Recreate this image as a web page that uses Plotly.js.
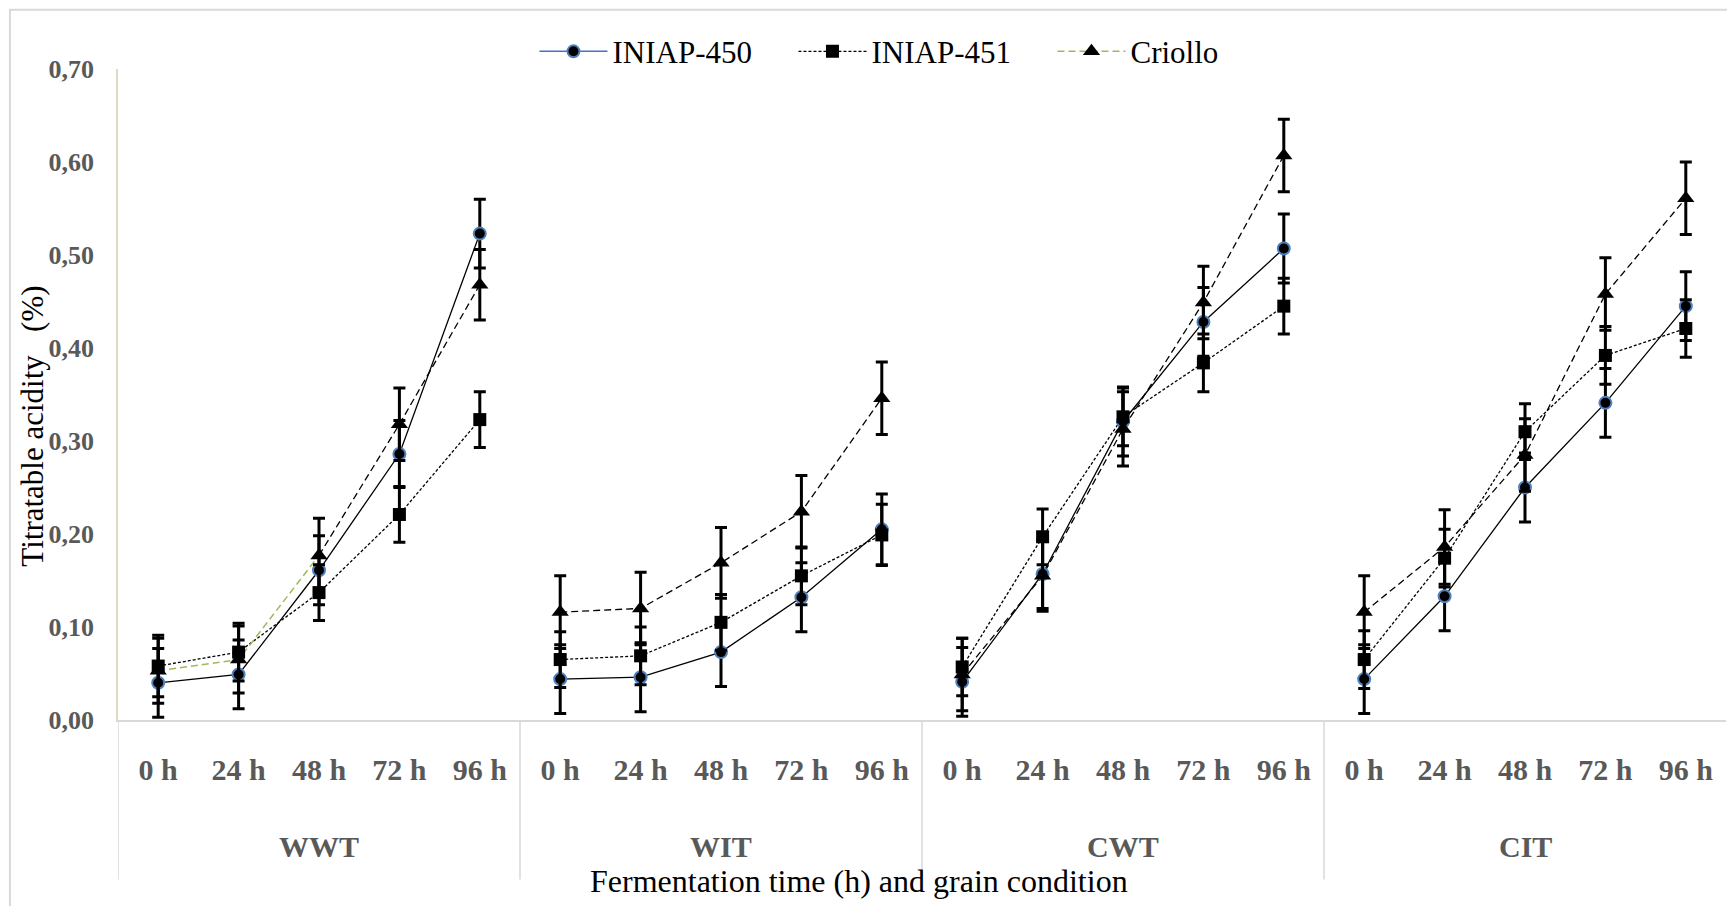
<!DOCTYPE html>
<html>
<head>
<meta charset="utf-8">
<script src="https://cdn.plot.ly/plotly-3.0.1.min.js"></script>
<style>html,body{margin:0;padding:0;background:#fff;}#chart{width:1727px;height:906px;}</style>
</head>
<body>
<div id="chart"></div>
<script>
// ---- data ----
const groups = ['WWT', 'WIT', 'CWT', 'CIT'];
const times = ['0 h', '24 h', '48 h', '72 h', '96 h'];

// values per group (WWT, WIT, CWT, CIT), 5 times each
const iniap450 = [0.040, 0.049, 0.161, 0.286, 0.523,
                  0.044, 0.046, 0.073, 0.132, 0.205,
                  0.041, 0.157, 0.321, 0.428, 0.507,
                  0.044, 0.133, 0.250, 0.341, 0.445];
const iniap451 = [0.058, 0.073, 0.137, 0.221, 0.323,
                  0.065, 0.069, 0.105, 0.155, 0.199,
                  0.057, 0.197, 0.326, 0.384, 0.445,
                  0.065, 0.174, 0.310, 0.392, 0.421];
const criollo  = [0.053, 0.065, 0.177, 0.318, 0.468,
                  0.116, 0.120, 0.169, 0.224, 0.346,
                  0.049, 0.155, 0.313, 0.449, 0.607,
                  0.116, 0.186, 0.285, 0.458, 0.561];

const err450 = [0.037, 0.037, 0.037, 0.036, 0.037,
                0.037, 0.037, 0.037, 0.037, 0.038,
                0.037, 0.037, 0.037, 0.037, 0.037,
                0.037, 0.037, 0.037, 0.037, 0.037];
const err451 = [0.033, 0.031, 0.030, 0.030, 0.030,
                0.030, 0.031, 0.030, 0.031, 0.033,
                0.031, 0.030, 0.031, 0.031, 0.030,
                0.031, 0.031, 0.030, 0.031, 0.031];
const errCriollo = [0.035, 0.036, 0.040, 0.039, 0.038,
                    0.039, 0.039, 0.038, 0.039, 0.039,
                    0.039, 0.038, 0.040, 0.039, 0.039,
                    0.039, 0.040, 0.039, 0.039, 0.039];

const seriesNames = ['INIAP-450', 'INIAP-451', 'Criollo'];

// ---- build ----
const SERIF = 'Liberation Serif';
const keys = [];
groups.forEach(g => times.forEach(t => keys.push(g + ' | ' + t)));
const tickText = [];
groups.forEach(() => times.forEach(t => tickText.push(t)));

const styles = [
  {line: {color: '#000000', width: 1.3, dash: 'solid'},
   marker: {symbol: 'circle', size: 12, color: '#000000', line: {color: '#4F81BD', width: 2}},
   legendLine: {color: '#4472C4', width: 1.5, dash: 'solid'}},
  {line: {color: '#000000', width: 1.3, dash: '3px,2px'},
   marker: {symbol: 'square', size: 13, color: '#000000', line: {width: 0}},
   legendLine: {color: '#000000', width: 1.3, dash: '3px,2px'}},
  {line: {color: '#000000', width: 1.3, dash: '7px,4px'},
   marker: {symbol: 'triangle-up', size: 15, color: '#000000', line: {width: 0}},
   legendLine: {color: '#9BBB59', width: 1.5, dash: '7px,4px'}}
];
const allSeries = [iniap450, iniap451, criollo];
const allErr = [err450, err451, errCriollo];

const traces = [];
// connecting lines, one per group so groups stay separate
allSeries.forEach((vals, si) => {
  groups.forEach((g, gi) => {
    const xs = keys.slice(gi * 5, gi * 5 + 5);
    const ys = vals.slice(gi * 5, gi * 5 + 5);
    if (si === 2 && gi === 0) {
      // Criollo WWT: first segments drawn in green, rest black
      traces.push({type: 'scatter', mode: 'lines', x: xs.slice(0, 3), y: ys.slice(0, 3),
        line: {color: '#9BBB59', width: 1.5, dash: '7px,4px'}, showlegend: false, hoverinfo: 'skip'});
      traces.push({type: 'scatter', mode: 'lines', x: xs.slice(2), y: ys.slice(2),
        line: styles[si].line, showlegend: false, hoverinfo: 'skip'});
    } else {
      traces.push({type: 'scatter', mode: 'lines', x: xs, y: ys,
        line: styles[si].line, showlegend: false, hoverinfo: 'skip'});
    }
  });
});
// markers with error bars
allSeries.forEach((vals, si) => {
  traces.push({type: 'scatter', mode: 'markers', x: keys, y: vals,
    name: seriesNames[si], showlegend: false,
    marker: styles[si].marker,
    error_y: {type: 'data', array: allErr[si], visible: true, color: '#000000', thickness: 3, width: 6}});
});
// legend entries
allSeries.forEach((vals, si) => {
  traces.push({type: 'scatter', mode: 'lines+markers', x: [null], y: [null],
    name: seriesNames[si], showlegend: true,
    line: styles[si].legendLine, marker: styles[si].marker});
});

const annotations = groups.map((g, gi) => ({
  xref: 'x', yref: 'paper', x: keys[gi * 5 + 2], y: -0.1946,
  text: '<b>' + g + '</b>', showarrow: false, xanchor: 'center', yanchor: 'middle',
  font: {family: SERIF, size: 30, color: '#595959'}
}));
annotations.push({
  xref: 'paper', yref: 'paper', x: 0.4608, y: -0.2469,
  text: 'Fermentation time (h) and grain condition', showarrow: false,
  xanchor: 'center', yanchor: 'middle', font: {family: SERIF, size: 32, color: '#000000'}
});
annotations.push({
  xref: 'paper', yref: 'paper', x: -0.0529, y: 0.452,
  text: 'Titratable acidity\u00a0\u00a0\u00a0(%)', showarrow: false, textangle: -90,
  xanchor: 'center', yanchor: 'middle', font: {family: SERIF, size: 31, color: '#000000'}
});

const shapes = [];
// outer chart border
shapes.push({type: 'rect', xref: 'paper', yref: 'paper', x0: -0.0672, x1: 1.02, y0: -0.35, y1: 1.0911,
  line: {color: '#D9D9D9', width: 2}, layer: 'below'});
// group dividers below the axis
[-0.5, 4.5, 9.5, 14.5].forEach(xv => {
  shapes.push({type: 'line', xref: 'x', yref: 'paper', x0: xv, x1: xv, y0: -0.245, y1: 0,
    line: {color: '#D9D9D9', width: 1.5}});
});

const layout = {
  width: 1727, height: 906,
  margin: {l: 118, r: 1, t: 69, b: 186},
  paper_bgcolor: '#ffffff', plot_bgcolor: '#ffffff',
  font: {family: SERIF, color: '#000000'},
  separators: ',.',
  showlegend: true,
  legend: {orientation: 'h', x: 0.259, xanchor: 'left', y: 1.0266, yanchor: 'middle',
    font: {family: SERIF, size: 31, color: '#000000'}, itemwidth: 68,
    entrywidth: 176, entrywidthmode: 'pixels', bgcolor: 'rgba(0,0,0,0)'},
  xaxis: {type: 'category', categoryorder: 'array', categoryarray: keys,
    tickmode: 'array', tickvals: keys, ticktext: tickText,
    range: [-0.5, 19.5], showgrid: false, zeroline: false,
    showline: true, linecolor: '#D9D9D9', linewidth: 2,
    ticks: 'outside', ticklen: 22, tickcolor: 'rgba(0,0,0,0)',
    tickfont: {family: SERIF, size: 30, color: '#595959', weight: 'bold'}},
  yaxis: {range: [0, 0.70], dtick: 0.1, tick0: 0, tickformat: '.2f',
    showgrid: false, zeroline: false, showline: true, linecolor: '#DDD9C3', linewidth: 1.5,
    ticks: 'outside', ticklen: 17, tickcolor: 'rgba(0,0,0,0)',
    tickfont: {family: SERIF, size: 26, color: '#595959', weight: 'bold'}},
  annotations: annotations,
  shapes: shapes
};

Plotly.newPlot('chart', traces, layout, {displayModeBar: false, responsive: false});
</script>
</body>
</html>
